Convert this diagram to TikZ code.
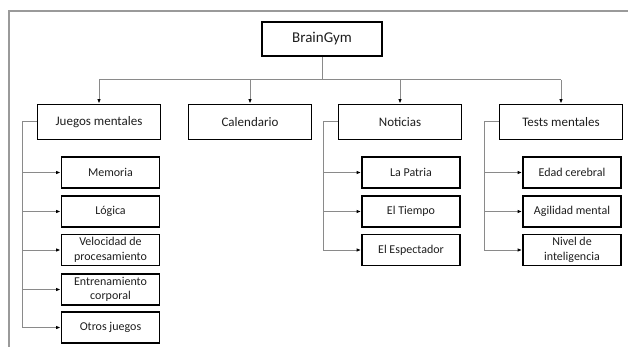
\documentclass[tikz,border=0pt]{standalone}
\usepackage{fontspec}
\setmainfont{Carlito}
\usetikzlibrary{arrows.meta}
\definecolor{conn}{HTML}{8A8A8A}
\definecolor{frame}{HTML}{9A9A9A}
\definecolor{txt}{HTML}{1E1E1E}
\tikzset{
  topbox/.style={draw=black, line width=1.8pt, minimum width=120pt, minimum height=34pt, inner sep=0pt, text=txt, font=\fontsize{15}{18}\selectfont},
  lvlbox/.style={draw=black, line width=1.8pt, minimum width=123pt, minimum height=35pt, inner sep=0pt, text=txt, font=\fontsize{13}{16}\selectfont},
  leafbox/.style={draw=black, line width=1.8pt, minimum width=98pt, minimum height=31pt, inner sep=0pt, text=txt, align=center, font=\fontsize{12}{14.5}\selectfont},
  link/.style={draw=conn, line width=1pt},
  arr/.style={link, -{Latex[length=4.5pt,width=3.5pt,black]}},
}
\begin{document}
\begin{tikzpicture}[x=1pt,y=-1pt]
\useasboundingbox (0,0) rectangle (628,347);
\draw[frame, line width=1.5pt] (9,347) -- (9,11) -- (628,11);

\node[topbox] (bg) at (322,39) {BrainGym};

\node[lvlbox] (jm) at (99,122) {Juegos mentales};
\node[lvlbox] (cal) at (250,122) {Calendario};
\node[lvlbox] (not) at (400,122) {Noticias};
\node[lvlbox] (tm) at (561,122) {Tests mentales};

\coordinate (bus) at (322,80);
\draw[link] (bg.south) -- (bus);
\draw[link] (bus -| jm) -- (bus -| tm);
\draw[arr] (bus -| jm) -- (jm.north);
\draw[arr] (bus -| cal) -- (cal.north);
\draw[arr] (bus -| not) -- (not.north);
\draw[arr] (bus -| tm) -- (tm.north);

% Juegos mentales children
\node[leafbox] (mem) at (110.5,172.5) {Memoria};
\node[leafbox] (log) at (110.5,211.5) {Lógica};
\node[leafbox] (vel) at (110.5,250) {Velocidad de\\procesamiento};
\node[leafbox] (ent) at (110.5,289.5) {Entrenamiento\\corporal};
\node[leafbox] (otr) at (110.5,327.5) {Otros juegos};
\coordinate (jmb) at (22,122);
\draw[link] (jm.west) -- (jmb);
\foreach \c in {mem,log,vel,ent,otr} \draw[arr] (jmb) |- (\c.west);

% Noticias children
\node[leafbox] (pat) at (411,172.5) {La Patria};
\node[leafbox] (tie) at (411,211.5) {El Tiempo};
\node[leafbox] (esp) at (411,250) {El Espectador};
\coordinate (notb) at (323,122);
\draw[link] (not.west) -- (notb);
\foreach \c in {pat,tie,esp} \draw[arr] (notb) |- (\c.west);

% Tests mentales children
\node[leafbox] (eda) at (572,172.5) {Edad cerebral};
\node[leafbox] (agi) at (572,211.5) {Agilidad mental};
\node[leafbox] (niv) at (572,250) {Nivel de\\inteligencia};
\coordinate (tmb) at (484,122);
\draw[link] (tm.west) -- (tmb);
\foreach \c in {eda,agi,niv} \draw[arr] (tmb) |- (\c.west);
\end{tikzpicture}
\end{document}
